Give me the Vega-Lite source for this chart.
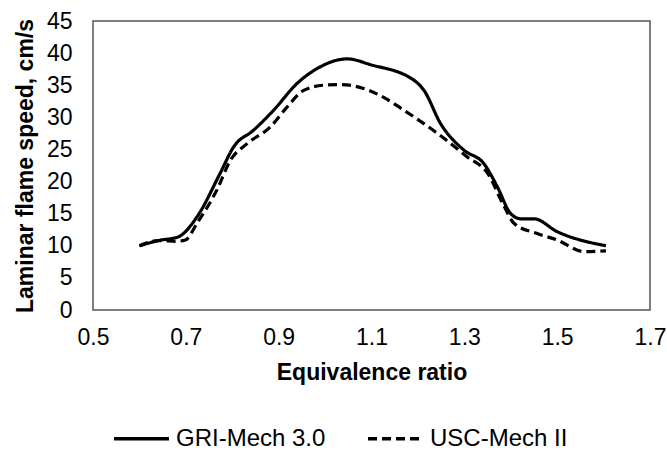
{
  "$schema": "https://vega.github.io/schema/vega-lite/v6.json",
  "width": 557,
  "height": 289,
  "autosize": {"type": "none"},
  "padding": {"left": 93, "top": 21, "right": 17, "bottom": 140},
  "background": "white",
  "config": {
    "view": {"stroke": "#555555", "strokeWidth": 1.5},
    "font": "Liberation Sans",
    "axis": {"grid": false, "ticks": false, "domain": false, "labelFont": "Liberation Sans", "titleFont": "Liberation Sans", "labelColor": "#000", "titleColor": "#000", "labelFontSize": 23, "titleFontSize": 23, "titleFontWeight": "bold", "labelOverlap": false, "labelBound": false, "labelFlush": false}
  },
  "data": {"values": [
    {"model": "GRI-Mech 3.0", "phi": 0.6, "speed": 10.0},
    {"model": "GRI-Mech 3.0", "phi": 0.64, "speed": 10.8},
    {"model": "GRI-Mech 3.0", "phi": 0.684, "speed": 11.4},
    {"model": "GRI-Mech 3.0", "phi": 0.724, "speed": 14.5},
    {"model": "GRI-Mech 3.0", "phi": 0.774, "speed": 21.3},
    {"model": "GRI-Mech 3.0", "phi": 0.803, "speed": 25.4},
    {"model": "GRI-Mech 3.0", "phi": 0.846, "speed": 28.0},
    {"model": "GRI-Mech 3.0", "phi": 0.889, "speed": 31.1},
    {"model": "GRI-Mech 3.0", "phi": 0.94, "speed": 35.3},
    {"model": "GRI-Mech 3.0", "phi": 0.983, "speed": 37.6},
    {"model": "GRI-Mech 3.0", "phi": 1.048, "speed": 39.1},
    {"model": "GRI-Mech 3.0", "phi": 1.098, "speed": 38.2},
    {"model": "GRI-Mech 3.0", "phi": 1.191, "speed": 35.8},
    {"model": "GRI-Mech 3.0", "phi": 1.213, "speed": 34.2},
    {"model": "GRI-Mech 3.0", "phi": 1.249, "speed": 29.0},
    {"model": "GRI-Mech 3.0", "phi": 1.299, "speed": 24.9},
    {"model": "GRI-Mech 3.0", "phi": 1.342, "speed": 22.8},
    {"model": "GRI-Mech 3.0", "phi": 1.371, "speed": 19.2},
    {"model": "GRI-Mech 3.0", "phi": 1.4, "speed": 15.0},
    {"model": "GRI-Mech 3.0", "phi": 1.422, "speed": 14.2},
    {"model": "GRI-Mech 3.0", "phi": 1.45, "speed": 14.2},
    {"model": "GRI-Mech 3.0", "phi": 1.5, "speed": 12.2},
    {"model": "GRI-Mech 3.0", "phi": 1.605, "speed": 10.0},
    {"model": "USC-Mech II", "phi": 0.6, "speed": 10.0},
    {"model": "USC-Mech II", "phi": 0.64, "speed": 10.8},
    {"model": "USC-Mech II", "phi": 0.68, "speed": 10.7},
    {"model": "USC-Mech II", "phi": 0.699, "speed": 10.9},
    {"model": "USC-Mech II", "phi": 0.724, "speed": 13.5},
    {"model": "USC-Mech II", "phi": 0.767, "speed": 18.7},
    {"model": "USC-Mech II", "phi": 0.796, "speed": 23.3},
    {"model": "USC-Mech II", "phi": 0.832, "speed": 25.9},
    {"model": "USC-Mech II", "phi": 0.882, "speed": 28.5},
    {"model": "USC-Mech II", "phi": 0.918, "speed": 31.6},
    {"model": "USC-Mech II", "phi": 0.954, "speed": 34.2},
    {"model": "USC-Mech II", "phi": 0.997, "speed": 35.0},
    {"model": "USC-Mech II", "phi": 1.033, "speed": 35.1},
    {"model": "USC-Mech II", "phi": 1.083, "speed": 34.5},
    {"model": "USC-Mech II", "phi": 1.119, "speed": 33.4},
    {"model": "USC-Mech II", "phi": 1.17, "speed": 31.1},
    {"model": "USC-Mech II", "phi": 1.242, "speed": 27.5},
    {"model": "USC-Mech II", "phi": 1.307, "speed": 23.8},
    {"model": "USC-Mech II", "phi": 1.35, "speed": 21.3},
    {"model": "USC-Mech II", "phi": 1.386, "speed": 16.1},
    {"model": "USC-Mech II", "phi": 1.407, "speed": 13.5},
    {"model": "USC-Mech II", "phi": 1.457, "speed": 11.9},
    {"model": "USC-Mech II", "phi": 1.5, "speed": 10.9},
    {"model": "USC-Mech II", "phi": 1.558, "speed": 9.1},
    {"model": "USC-Mech II", "phi": 1.605, "speed": 9.2}
  ]},
  "mark": {"type": "line", "interpolate": "monotone", "strokeWidth": 3.2, "color": "black"},
  "encoding": {
    "x": {"field": "phi", "type": "quantitative", "title": "Equivalence ratio",
      "scale": {"domain": [0.5, 1.7], "nice": false, "zero": false},
      "axis": {"values": [0.5, 0.7, 0.9, 1.1, 1.3, 1.5, 1.7], "format": ".1f", "labelPadding": 16, "titlePadding": 12}},
    "y": {"field": "speed", "type": "quantitative", "title": "Laminar flame speed, cm/s",
      "scale": {"domain": [0, 45], "nice": false},
      "axis": {"values": [0, 5, 10, 15, 20, 25, 30, 35, 40, 45], "labelPadding": 21, "titlePadding": 9}},
    "strokeDash": {"field": "model", "type": "nominal", "title": null,
      "scale": {"domain": ["GRI-Mech 3.0", "USC-Mech II"], "range": [[1, 0], [9, 5]]},
      "legend": {"orient": "none", "legendX": 19, "legendY": 388, "direction": "horizontal",
        "symbolType": "stroke", "symbolSize": 3025, "symbolStrokeWidth": 3.5, "symbolStrokeColor": "black",
        "labelFontSize": 24, "labelFont": "Liberation Sans", "labelColor": "#000", "columnPadding": 35, "labelOffset": 5}}
  }
}
